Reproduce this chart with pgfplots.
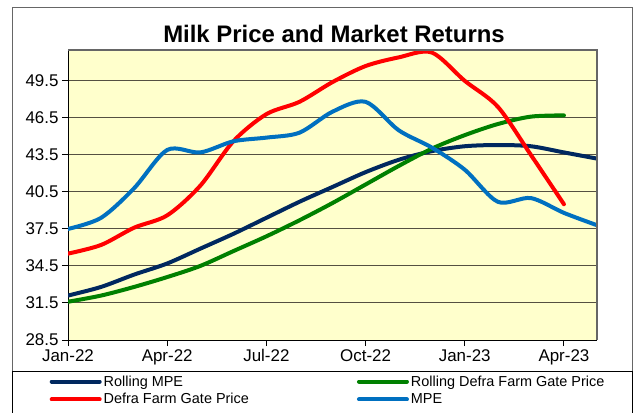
\documentclass[border=0pt]{standalone}
\usepackage{pgfplots}
\pgfplotsset{compat=1.18}
\usepackage{fontspec}
\setmainfont{Liberation Sans}
\definecolor{rollmpe}{RGB}{0,40,95}
\definecolor{rolldefra}{RGB}{0,128,0}
\definecolor{defra}{RGB}{255,0,0}
\definecolor{mpe}{RGB}{0,112,192}
\definecolor{plotbg}{RGB}{255,255,204}
\definecolor{gridc}{RGB}{85,80,65}
\begin{document}
\begin{tikzpicture}
\path[use as bounding box] (0bp,0bp) rectangle (634bp,413bp);
\fill[white] (0bp,0bp) rectangle (634bp,413bp);
\draw[gray!80!black, line width=1bp] (12bp,-2bp) rectangle (632bp,405bp);
\draw[black, line width=1bp] (12bp,-2bp) rectangle (632bp,41bp);
\node[font=\bfseries\fontsize{24}{28}\selectfont] at (334bp,379bp) {Milk Price and Market Returns};
\begin{axis}[
  at={(68bp,73bp)}, anchor=south west,
  scale only axis, width=529bp, height=290bp,
  xmin=0, xmax=16, ymin=28.5, ymax=52,
  xtick={0,3,6,9,12,15},
  xticklabels={Jan-22,Apr-22,Jul-22,Oct-22,Jan-23,Apr-23},
  ytick={28.5,31.5,34.5,37.5,40.5,43.5,46.5,49.5},
  yticklabel style={/pgf/number format/.cd, fixed, fixed zerofill, precision=1},
  /pgf/number format/assume math mode=true,
  ymajorgrids, grid style={gridc, line width=1bp},
  axis lines*=left, axis line style={black, line width=1bp, -},
  tick align=outside, major tick length=6bp,
  tick style={black, line width=1bp},
  axis background/.style={fill=plotbg},
  ticklabel style={font=\fontsize{17}{20}\selectfont},
  every axis plot/.append style={line width=4bp, line cap=round, smooth},
  legend columns=2,
  legend cell align=left,
  legend image code/.code={\draw[#1] (0bp,0bp) -- (48bp,0bp);},
  legend style={draw=none, fill=none, inner sep=0pt,
    at={(axis description cs:-0.035,-0.115)}, anchor=north west,
    font=\fontsize{14.5}{16}\selectfont, row sep=2bp,
    /tikz/column 2/.style={column sep=106bp}},
]
\addplot[rollmpe] coordinates {(0,32.1)(1,32.8)(2,33.8)(3,34.7)(4,35.9)(5,37.1)(6,38.4)(7,39.7)(8,40.9)(9,42.1)(10,43.1)(11,43.8)(12,44.2)(13,44.3)(14,44.2)(15,43.7)(16,43.2)};
\addlegendentry{Rolling MPE}
\addplot[rolldefra] coordinates {(0,31.6)(1,32.1)(2,32.8)(3,33.6)(4,34.5)(5,35.7)(6,36.9)(7,38.2)(8,39.6)(9,41.1)(10,42.6)(11,44.0)(12,45.1)(13,46.0)(14,46.6)(15,46.7)};
\addlegendentry{Rolling Defra Farm Gate Price}
\addplot[defra] coordinates {(0,35.5)(1,36.2)(2,37.6)(3,38.6)(4,41.0)(5,44.6)(6,46.8)(7,47.8)(8,49.4)(9,50.7)(10,51.4)(11,51.8)(12,49.5)(13,47.4)(14,43.5)(15,39.5)};
\addlegendentry{Defra Farm Gate Price}
\addplot[mpe] coordinates {(0,37.5)(1,38.4)(2,40.8)(3,43.9)(4,43.7)(5,44.6)(6,44.9)(7,45.3)(8,47.0)(9,47.8)(10,45.5)(11,44.1)(12,42.3)(13,39.7)(14,40.0)(15,38.8)(16,37.8)};
\addlegendentry{MPE}
\end{axis}
\draw[gray!80!black, line width=1.2bp] (68bp,363bp) -- (597bp,363bp) -- (597bp,73bp);
\end{tikzpicture}
\end{document}
